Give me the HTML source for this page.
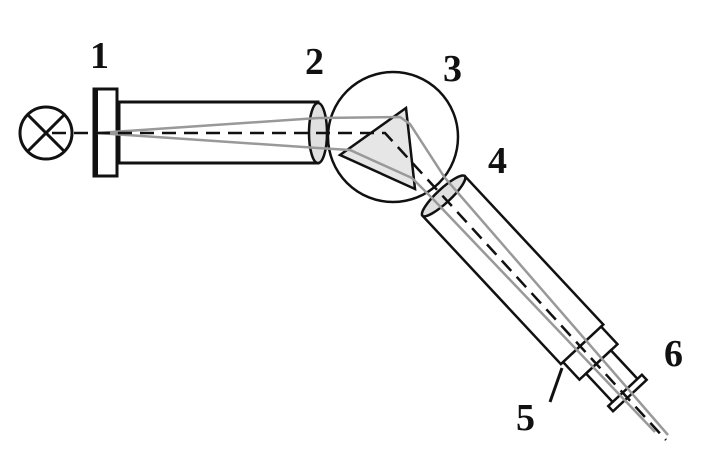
<!DOCTYPE html>
<html><head><meta charset="utf-8"><style>
html,body{margin:0;padding:0;background:#fff;}
svg{display:block;}
text{font-family:"Liberation Serif",serif;font-weight:bold;font-size:38px;fill:#111;}
</style></head><body>
<svg width="723" height="462" viewBox="0 0 723 462">
  <!-- lamp -->
  <g stroke="#111" stroke-width="3" fill="none">
    <circle cx="46" cy="133" r="26"/>
    <line x1="28" y1="115" x2="64" y2="151"/>
    <line x1="64" y1="115" x2="28" y2="151"/>
  </g>
  <!-- slit -->
  <g>
    <rect x="94" y="89" width="23" height="87" fill="#fff" stroke="#111" stroke-width="3"/>
    <rect x="93" y="89" width="5" height="87" fill="#111"/>
  </g>
  <!-- collimator tube -->
  <rect x="119" y="102" width="199" height="61" fill="#fff" stroke="#111" stroke-width="3"/>
  <!-- circle/prism table -->
  <circle cx="393" cy="137" r="65" fill="#fff" stroke="#111" stroke-width="2.5"/>
  <polygon points="406,108 340,155 415,189" fill="#e6e6e6" stroke="#111" stroke-width="2.5"/>
  <!-- telescope group -->
  <g transform="translate(385,133) rotate(47)" stroke="#111" stroke-width="2.5" fill="#fff">
    <rect x="86" y="-29" width="203" height="58"/>
    <rect x="289" y="-26" width="24" height="52"/>
    <rect x="313" y="-17" width="45" height="34"/>
    <rect x="352" y="-23" width="7" height="46"/>
    <ellipse cx="86" cy="0" rx="7" ry="29" fill="#e0e0e0"/>
  </g>
  <!-- collimator lens -->
  <ellipse cx="318" cy="133" rx="9" ry="30" fill="#e0e0e0" stroke="#111" stroke-width="2.5"/>
  <!-- rays -->
  <g stroke="#999" stroke-width="2.5" fill="none">
    <polyline points="97,133 318,118 400,117 410,124 445,178 668,435"/>
    <polyline points="97,133 318,148 350,150 412,178 432,198 655,432"/>
  </g>
  <!-- optical axis -->
  <g stroke="#111" stroke-width="2.5" fill="none" stroke-dasharray="14,8">
    <polyline points="52,133 385,133 666,440"/>
  </g>
  <line x1="562" y1="368" x2="550" y2="402" stroke="#111" stroke-width="3"/>
  <text x="90" y="68">1</text>
  <text x="305" y="74">2</text>
  <text x="443" y="81">3</text>
  <text x="488" y="173">4</text>
  <text x="516" y="430">5</text>
  <text x="664" y="366">6</text>
</svg>
</body></html>
